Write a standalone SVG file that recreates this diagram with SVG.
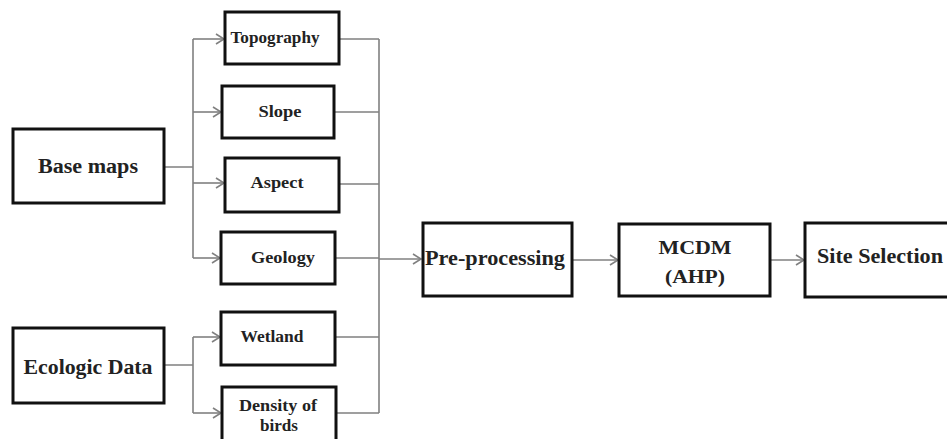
<svg xmlns="http://www.w3.org/2000/svg" width="947" height="439" viewBox="0 0 947 439">
<style>
.box{fill:#fff;stroke:#111;stroke-width:3}
.t{font-family:"Liberation Serif","Times New Roman",serif;font-weight:bold;fill:#222;text-anchor:middle}
.s{font-size:17px}
.c{fill:none;stroke:#808080;stroke-width:1.6}
</style>
<defs>
<marker id="ah" markerUnits="userSpaceOnUse" markerWidth="12" markerHeight="12" viewBox="-10 -6 12 12" refX="0" refY="0" orient="auto">
<path d="M-8,-5 L0,0 L-8,5" fill="none" stroke="#808080" stroke-width="1.6"/>
</marker>
</defs>
<rect width="947" height="439" fill="#fff"/>
<g id="connectors">
<path class="c" d="M164,167 H193 M193,39 V258 M379,39 V413"/>
<path class="c" marker-end="url(#ah)" d="M193,39 H224"/>
<path class="c" marker-end="url(#ah)" d="M193,112 H221"/>
<path class="c" marker-end="url(#ah)" d="M193,183 H224"/>
<path class="c" marker-end="url(#ah)" d="M193,258 H220"/>
<path class="c" d="M164,365 H193 M193,337 V413"/>
<path class="c" marker-end="url(#ah)" d="M193,337 H220"/>
<path class="c" marker-end="url(#ah)" d="M193,413 H221"/>
<path class="c" d="M339,39 H379 M334,112 H379 M339,184 H379 M335,258 H379 M335,337 H379 M336,413 H379"/>
<path class="c" marker-end="url(#ah)" d="M379,259 H421"/>
<path class="c" marker-end="url(#ah)" d="M572,260 H618"/>
<path class="c" marker-end="url(#ah)" d="M770,260 H804"/>
</g>
<g id="base-maps"><rect class="box" x="13" y="129" width="151" height="74"/><text class="t" x="88" y="173" font-size="20" textLength="100" lengthAdjust="spacingAndGlyphs">Base maps</text></g>
<g id="ecologic-data"><rect class="box" x="13" y="328" width="151" height="75"/><text class="t" x="88" y="374" font-size="20" textLength="129" lengthAdjust="spacingAndGlyphs">Ecologic Data</text></g>
<g id="topography"><rect class="box" x="225" y="12" width="114" height="52"/><text class="t s" x="275" y="43" textLength="89" lengthAdjust="spacingAndGlyphs">Topography</text></g>
<g id="slope"><rect class="box" x="222" y="86" width="112" height="52"/><text class="t s" x="280" y="117" textLength="43" lengthAdjust="spacingAndGlyphs">Slope</text></g>
<g id="aspect"><rect class="box" x="225" y="158" width="114" height="54"/><text class="t s" x="277" y="188" textLength="53" lengthAdjust="spacingAndGlyphs">Aspect</text></g>
<g id="geology"><rect class="box" x="221" y="232" width="114" height="52"/><text class="t s" x="283" y="263" textLength="64" lengthAdjust="spacingAndGlyphs">Geology</text></g>
<g id="wetland"><rect class="box" x="221" y="312" width="114" height="53"/><text class="t s" x="272" y="342" textLength="63" lengthAdjust="spacingAndGlyphs">Wetland</text></g>
<g id="density-of-birds"><rect class="box" x="222" y="387" width="114" height="60"/><text class="t s" x="278" y="411" textLength="78" lengthAdjust="spacingAndGlyphs">Density of</text><text class="t s" x="279" y="431" textLength="38" lengthAdjust="spacingAndGlyphs">birds</text></g>
<g id="pre-processing"><rect class="box" x="423" y="223" width="149" height="73"/><text class="t" x="495" y="265" font-size="21" textLength="140" lengthAdjust="spacingAndGlyphs">Pre-processing</text></g>
<g id="mcdm"><rect class="box" x="619" y="224" width="151" height="72"/><text class="t" x="695" y="254" font-size="19" textLength="73" lengthAdjust="spacingAndGlyphs">MCDM</text><text class="t" x="695" y="283" font-size="19" textLength="60" lengthAdjust="spacingAndGlyphs">(AHP)</text></g>
<g id="site-selection"><rect class="box" x="805" y="223" width="150" height="74"/><text class="t" x="880" y="263" font-size="20" textLength="126" lengthAdjust="spacingAndGlyphs">Site Selection</text></g>
</svg>
